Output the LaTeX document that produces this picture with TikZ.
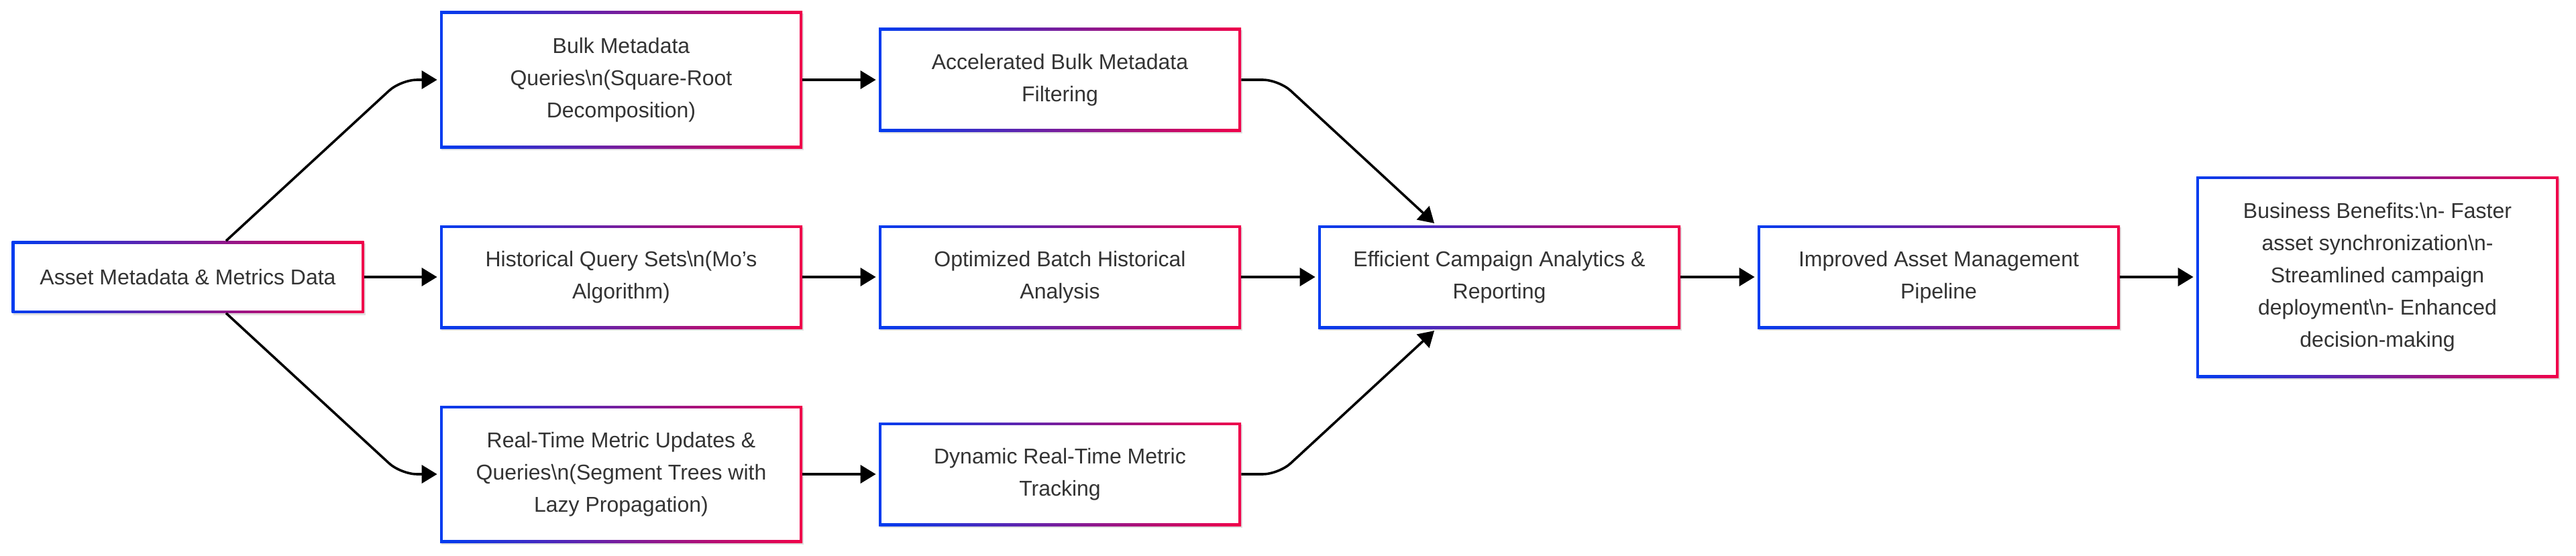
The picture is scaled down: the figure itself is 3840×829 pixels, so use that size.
\documentclass[tikz,border=0pt]{standalone}
\usepackage{fontspec}
\setmainfont{Liberation Sans}
\usetikzlibrary{arrows.meta,shadows}
\definecolor{gblue}{HTML}{003CF0}
\definecolor{gred}{HTML}{F0004A}
\definecolor{txt}{HTML}{333333}
\tikzset{
  box/.style={rectangle, fill=white, inner sep=0pt, align=center, text=txt,
    minimum width=270pt,
    font=\fontsize{16pt}{24pt}\selectfont,
    drop shadow={shadow xshift=1pt, shadow yshift=-1.5pt, opacity=0.12, fill=black},
    path picture={
      \shade[left color=gblue, right color=gred]
        (path picture bounding box.south west) rectangle (path picture bounding box.north east);
      \fill[white]
        ([xshift=2pt,yshift=2pt]path picture bounding box.south west) rectangle
        ([xshift=-2pt,yshift=-2pt]path picture bounding box.north east);
    }},
  h1/.style={minimum height=53.5pt},
  h2/.style={minimum height=77pt},
  h3/.style={minimum height=102pt},
  h5/.style={minimum height=150pt},
  arr/.style={draw=black, line width=1.8pt, -{Triangle[length=11.5pt,width=13.5pt]}, shorten >=2pt},
}
\begin{document}
\begin{tikzpicture}[x=0.5pt,y=-0.5pt]
\fill[white] (0,0) rectangle (3840,829);
\useasboundingbox (0,0) rectangle (3840,829);

\node[box,h1,minimum width=262.5pt] (A) at (280,413) {Asset Metadata \& Metrics Data};
\node[box,h3] (B) at (926,119) {Bulk Metadata\\Queries\textbackslash n(Square-Root\\Decomposition)};
\node[box,h2] (H) at (926,413) {Historical Query Sets\textbackslash n(Mo's\\Algorithm)};
\node[box,h3] (R) at (926,707) {Real-Time Metric Updates \&\\Queries\textbackslash n(Segment Trees with\\Lazy Propagation)};
\node[box,h2] (AC) at (1580,119) {Accelerated Bulk Metadata\\Filtering};
\node[box,h2] (O) at (1580,413) {Optimized Batch Historical\\Analysis};
\node[box,h2] (D) at (1580,707) {Dynamic Real-Time Metric\\Tracking};
\node[box,h2] (E) at (2235,413) {Efficient Campaign Analytics \&\\Reporting};
\node[box,h2] (I) at (2890,413) {Improved Asset Management\\Pipeline};
\node[box,h5] (BB) at (3544,413) {Business Benefits:\textbackslash n- Faster\\asset synchronization\textbackslash n-\\Streamlined campaign\\deployment\textbackslash n- Enhanced\\decision-making};

\draw[arr, rounded corners=12pt] ([xshift=28.5pt]A.north) -- ([xshift=-29pt]B.west) -- (B.west);
\draw[arr] (A.east) -- (H.west);
\draw[arr, rounded corners=12pt] ([xshift=28.5pt]A.south) -- ([xshift=-29pt]R.west) -- (R.west);
\draw[arr] (B.east) -- (AC.west);
\draw[arr] (H.east) -- (O.west);
\draw[arr] (R.east) -- (D.west);
\draw[arr, rounded corners=12pt] (AC.east) -- ([xshift=28pt]AC.east) -- ([xshift=-47pt]E.north);
\draw[arr] (O.east) -- (E.west);
\draw[arr, rounded corners=12pt] (D.east) -- ([xshift=28pt]D.east) -- ([xshift=-47pt]E.south);
\draw[arr] (E.east) -- (I.west);
\draw[arr] (I.east) -- (BB.west);
\end{tikzpicture}
\end{document}
